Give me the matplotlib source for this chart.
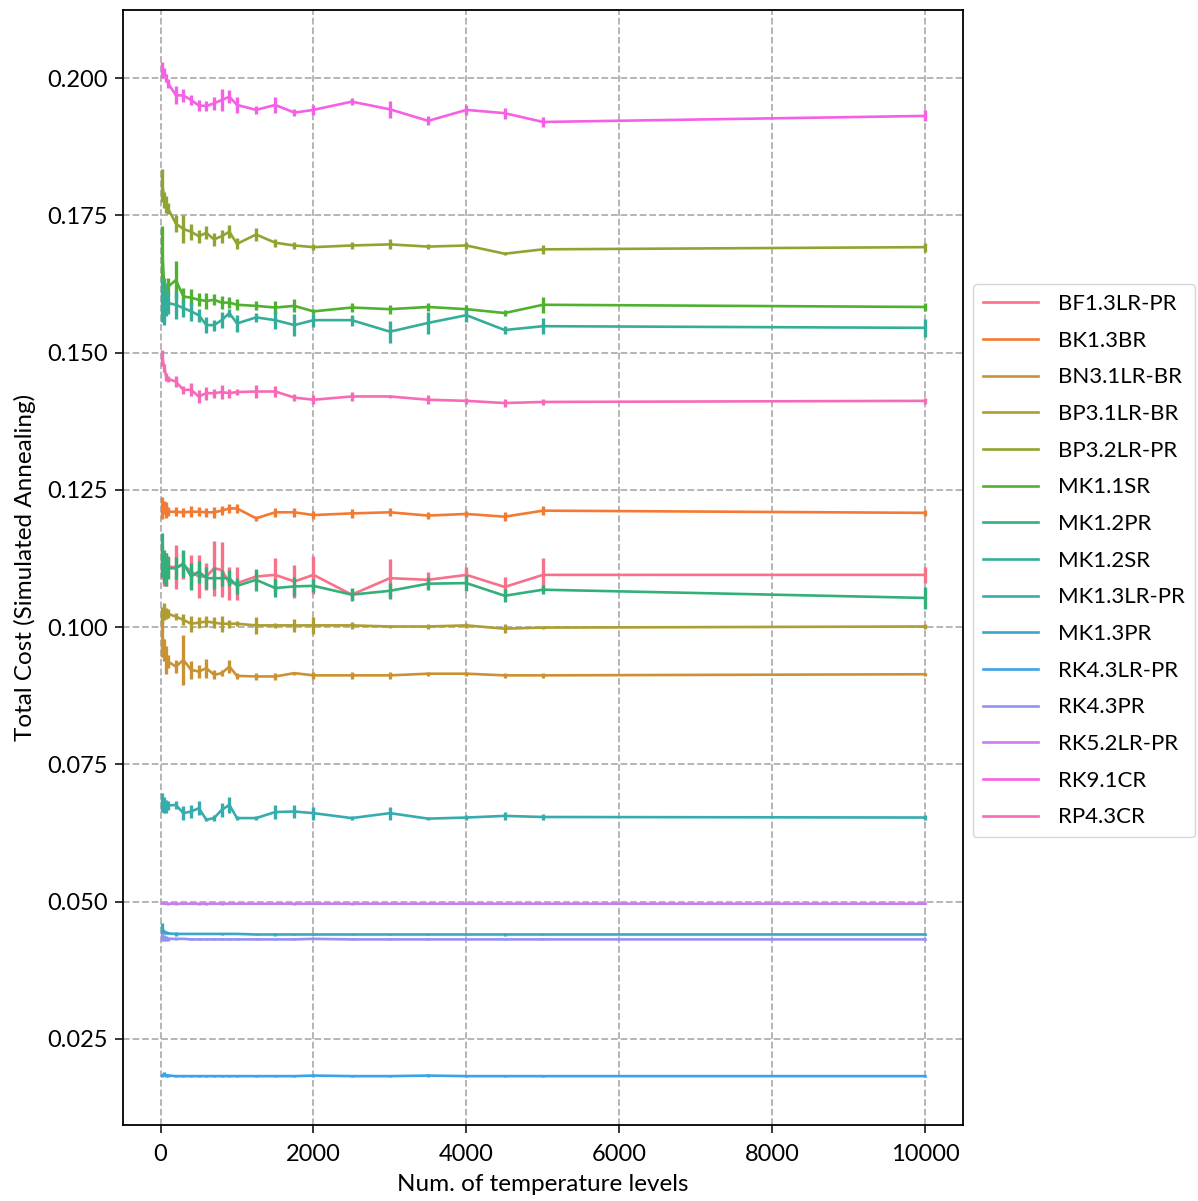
import matplotlib
matplotlib.use("Agg")
import matplotlib.pyplot as plt
import seaborn as sns

plt.rcParams['font.family'] = ['Lato', 'DejaVu Sans']

levels = [25, 50, 75, 100, 200, 300, 400, 500, 600, 700, 800, 900, 1000,
          1250, 1500, 1750, 2000, 2500, 3000, 3500, 4000, 4500, 5000, 10000]

names = ["BF1.3LR-PR", "BK1.3BR", "BN3.1LR-BR", "BP3.1LR-BR", "BP3.2LR-PR",
         "MK1.1SR", "MK1.2PR", "MK1.2SR", "MK1.3LR-PR", "MK1.3PR",
         "RK4.3LR-PR", "RK4.3PR", "RK5.2LR-PR", "RK9.1CR", "RP4.3CR"]

bf13lr_pr = [0.1117, 0.1104, 0.1104, 0.1110, 0.1109, 0.1113, 0.1101, 0.1092, 0.1092, 0.1107, 0.1104, 0.1080,
             0.1080, 0.1092, 0.1095, 0.1083, 0.1095, 0.1059, 0.1089, 0.1086, 0.1095, 0.1073, 0.1095, 0.1095]
bf13lr_pr_err = [0.0030, 0.0030, 0.0030, 0.0020, 0.0040, 0.0025, 0.0030, 0.0040, 0.0025, 0.0050, 0.0050, 0.0030,
                 0.0030, 0.0010, 0.0030, 0.0030, 0.0035, 0.0010, 0.0035, 0.0015, 0.0015, 0.0018, 0.0030, 0.0015]

bk13br = [0.1217, 0.1217, 0.1213, 0.1210, 0.1210, 0.1209, 0.1210, 0.1210, 0.1209, 0.1209, 0.1212, 0.1216,
          0.1216, 0.1198, 0.1209, 0.1209, 0.1204, 0.1207, 0.1209, 0.1203, 0.1206, 0.1201, 0.1212, 0.1208]
bk13br_err = [0.0020, 0.0012, 0.0015, 0.0008, 0.0008, 0.0008, 0.0010, 0.0008, 0.0008, 0.0010, 0.0008, 0.0008,
              0.0008, 0.0005, 0.0008, 0.0008, 0.0008, 0.0008, 0.0007, 0.0007, 0.0005, 0.0008, 0.0008, 0.0006]

bn31lr_br = [0.0985, 0.0959, 0.0940, 0.0937, 0.0928, 0.0940, 0.0922, 0.0919, 0.0925, 0.0913, 0.0916, 0.0928,
             0.0911, 0.0910, 0.0910, 0.0916, 0.0912, 0.0912, 0.0912, 0.0915, 0.0915, 0.0912, 0.0912, 0.0914]
bn31lr_br_err = [0.0040, 0.0020, 0.0025, 0.0012, 0.0012, 0.0045, 0.0017, 0.0012, 0.0017, 0.0008, 0.0005, 0.0012,
                 0.0005, 0.0007, 0.0007, 0.0003, 0.0007, 0.0007, 0.0007, 0.0004, 0.0004, 0.0004, 0.0004, 0.0003]

bp31lr_br = [0.1022, 0.1028, 0.1025, 0.1024, 0.1019, 0.1013, 0.1006, 0.1008, 0.1010, 0.1008, 0.1006, 0.1006,
             0.1006, 0.1003, 0.1003, 0.1003, 0.1003, 0.1003, 0.1001, 0.1001, 0.1003, 0.0997, 0.0999, 0.1001]
bp31lr_br_err = [0.0015, 0.0015, 0.0010, 0.0008, 0.0007, 0.0010, 0.0015, 0.0010, 0.0010, 0.0010, 0.0015, 0.0007,
                 0.0005, 0.0015, 0.0005, 0.0012, 0.0015, 0.0007, 0.0003, 0.0004, 0.0004, 0.0008, 0.0003, 0.0004]

bp32lr_pr = [0.1805, 0.1778, 0.1770, 0.1762, 0.1735, 0.1725, 0.1720, 0.1712, 0.1718, 0.1706, 0.1712, 0.1720,
             0.1698, 0.1715, 0.1700, 0.1695, 0.1692, 0.1695, 0.1697, 0.1693, 0.1695, 0.1680, 0.1688, 0.1692]
bp32lr_pr_err = [0.0030, 0.0015, 0.0015, 0.0010, 0.0015, 0.0025, 0.0015, 0.0012, 0.0012, 0.0012, 0.0012, 0.0012,
                 0.0010, 0.0012, 0.0007, 0.0007, 0.0006, 0.0007, 0.0009, 0.0005, 0.0006, 0.0003, 0.0008, 0.0008]

mk11sr = [0.1680, 0.1615, 0.1605, 0.1620, 0.1632, 0.1602, 0.1600, 0.1596, 0.1594, 0.1596, 0.1591, 0.1591,
          0.1587, 0.1585, 0.1582, 0.1585, 0.1575, 0.1582, 0.1579, 0.1583, 0.1579, 0.1572, 0.1587, 0.1583]
mk11sr_err = [0.0050, 0.0020, 0.0015, 0.0015, 0.0035, 0.0015, 0.0015, 0.0012, 0.0015, 0.0010, 0.0012, 0.0010,
              0.0010, 0.0008, 0.0012, 0.0012, 0.0005, 0.0009, 0.0008, 0.0008, 0.0008, 0.0005, 0.0015, 0.0008]

mk12pr = [0.1131, 0.1110, 0.1104, 0.1107, 0.1107, 0.1116, 0.1092, 0.1101, 0.1089, 0.1089, 0.1089, 0.1089,
          0.1075, 0.1086, 0.1071, 0.1074, 0.1075, 0.1059, 0.1066, 0.1079, 0.1080, 0.1057, 0.1068, 0.1053]
mk12pr_err = [0.0040, 0.0030, 0.0030, 0.0020, 0.0020, 0.0025, 0.0025, 0.0020, 0.0020, 0.0020, 0.0015, 0.0015,
              0.0015, 0.0020, 0.0017, 0.0017, 0.0012, 0.0012, 0.0015, 0.0012, 0.0015, 0.0012, 0.0008, 0.0020]

mk12sr = [0.1596, 0.1580, 0.1596, 0.1590, 0.1587, 0.1581, 0.1575, 0.1568, 0.1550, 0.1550, 0.1559, 0.1572,
          0.1553, 0.1564, 0.1559, 0.1550, 0.1559, 0.1559, 0.1538, 0.1554, 0.1568, 0.1541, 0.1548, 0.1545]
mk12sr_err = [0.0040, 0.0030, 0.0030, 0.0020, 0.0025, 0.0017, 0.0017, 0.0012, 0.0015, 0.0010, 0.0015, 0.0008,
              0.0015, 0.0008, 0.0017, 0.0020, 0.0012, 0.0010, 0.0020, 0.0020, 0.0012, 0.0008, 0.0015, 0.0017]

mk13lr_pr = [0.0680, 0.0676, 0.0673, 0.0675, 0.0676, 0.0661, 0.0664, 0.0670, 0.0649, 0.0652, 0.0667, 0.0676,
             0.0652, 0.0652, 0.0663, 0.0664, 0.0661, 0.0652, 0.0661, 0.0651, 0.0653, 0.0656, 0.0654, 0.0653]
mk13lr_pr_err = [0.0017, 0.0015, 0.0012, 0.0008, 0.0008, 0.0013, 0.0012, 0.0013, 0.0003, 0.0005, 0.0013, 0.0015,
                 0.0003, 0.0003, 0.0012, 0.0012, 0.0012, 0.0003, 0.0012, 0.0003, 0.0004, 0.0008, 0.0005, 0.0004]

mk13pr = [0.0451, 0.0444, 0.0443, 0.0442, 0.0441, 0.0441, 0.0441, 0.0441, 0.0441, 0.0441, 0.0441, 0.0441,
          0.0441, 0.0440, 0.0440, 0.0440, 0.0440, 0.0440, 0.0440, 0.0440, 0.0440, 0.0440, 0.0440, 0.0440]
mk13pr_err = [0.0010, 0.0004, 0.0003, 0.0002, 0.0003, 0.0001, 0.0001, 0.0001, 0.0001, 0.0001, 0.0002, 0.0001,
              0.0001, 0.0001, 0.0002, 0.0001, 0.0001, 0.0001, 0.0001, 0.0001, 0.0001, 0.0002, 0.0001, 0.0001]

rk43lr_pr = [0.0183, 0.0186, 0.0183, 0.0183, 0.0182, 0.0182, 0.0182, 0.0182, 0.0182, 0.0182, 0.0182, 0.0182,
             0.0182, 0.0182, 0.0182, 0.0182, 0.0183, 0.0182, 0.0182, 0.0183, 0.0182, 0.0182, 0.0182, 0.0182]
rk43lr_pr_err = [0.0003, 0.0004, 0.0002, 0.0002, 0.0001, 0.0002, 0.0001, 0.0001, 0.0002, 0.0001, 0.0001, 0.0001,
                 0.0001, 0.0001, 0.0001, 0.0001, 0.0002, 0.0001, 0.0001, 0.0002, 0.0001, 0.0001, 0.0001, 0.0001]

rk43pr = [0.0436, 0.0434, 0.0433, 0.0432, 0.0432, 0.0432, 0.0431, 0.0431, 0.0431, 0.0431, 0.0431, 0.0431,
          0.0431, 0.0431, 0.0431, 0.0431, 0.0432, 0.0431, 0.0431, 0.0431, 0.0431, 0.0431, 0.0431, 0.0431]
rk43pr_err = [0.0007, 0.0005, 0.0004, 0.0003, 0.0002, 0.0001, 0.0001, 0.0001, 0.0001, 0.0001, 0.0001, 0.0001,
              0.0001, 0.0001, 0.0001, 0.0001, 0.0001, 0.0001, 0.0001, 0.0001, 0.0001, 0.0001, 0.0001, 0.0001]

rk52lr_pr = [0.0497, 0.0496, 0.0496, 0.0496, 0.0496, 0.0496, 0.0496, 0.0496, 0.0496, 0.0496, 0.0496, 0.0496,
             0.0496, 0.0496, 0.0496, 0.0496, 0.0496, 0.0496, 0.0496, 0.0496, 0.0496, 0.0496, 0.0496, 0.0496]
rk52lr_pr_err = [0.0002, 0.0001, 0.0001, 0.0002, 0.0002, 0.0001, 0.0001, 0.0002, 0.0002, 0.0001, 0.0002, 0.0001,
                 0.0001, 0.0001, 0.0001, 0.0002, 0.0001, 0.0002, 0.0001, 0.0001, 0.0001, 0.0001, 0.0001, 0.0001]

rk91cr = [0.2015, 0.2011, 0.2000, 0.1990, 0.1969, 0.1968, 0.1960, 0.1950, 0.1949, 0.1954, 0.1960, 0.1966,
          0.1951, 0.1942, 0.1951, 0.1937, 0.1942, 0.1957, 0.1943, 0.1922, 0.1942, 0.1936, 0.1920, 0.1931]
rk91cr_err = [0.0015, 0.0007, 0.0008, 0.0008, 0.0017, 0.0012, 0.0010, 0.0010, 0.0009, 0.0012, 0.0020, 0.0012,
              0.0015, 0.0007, 0.0015, 0.0006, 0.0009, 0.0006, 0.0015, 0.0008, 0.0009, 0.0010, 0.0009, 0.0010]

rp43cr = [0.1490, 0.1472, 0.1456, 0.1452, 0.1447, 0.1432, 0.1432, 0.1420, 0.1426, 0.1426, 0.1428, 0.1426,
          0.1428, 0.1429, 0.1429, 0.1418, 0.1414, 0.1420, 0.1420, 0.1414, 0.1412, 0.1408, 0.1410, 0.1412]
rp43cr_err = [0.0015, 0.0008, 0.0007, 0.0006, 0.0010, 0.0007, 0.0012, 0.0012, 0.0012, 0.0008, 0.0012, 0.0008,
              0.0005, 0.0012, 0.0010, 0.0007, 0.0008, 0.0008, 0.0003, 0.0008, 0.0005, 0.0008, 0.0005, 0.0005]

series = [bf13lr_pr, bk13br, bn31lr_br, bp31lr_br, bp32lr_pr, mk11sr, mk12pr, mk12sr,
          mk13lr_pr, mk13pr, rk43lr_pr, rk43pr, rk52lr_pr, rk91cr, rp43cr]
errors = [bf13lr_pr_err, bk13br_err, bn31lr_br_err, bp31lr_br_err, bp32lr_pr_err, mk11sr_err, mk12pr_err,
          mk12sr_err, mk13lr_pr_err, mk13pr_err, rk43lr_pr_err, rk43pr_err, rk52lr_pr_err, rk91cr_err, rp43cr_err]

colors = sns.color_palette("husl", len(names))

fig = plt.figure(figsize=(11.98, 12.01), dpi=100)
ax = fig.add_axes([0.1027, 0.0633, 0.701, 0.9284])

for name, vals, errs, c in zip(names, series, errors, colors):
    ax.plot(levels, vals, color=c, lw=1.9, label=name)
    ax.errorbar(levels, vals, yerr=errs, fmt='none', ecolor=c, elinewidth=2.4, capsize=0)

ax.set_xlim(-490, 10490)
ax.set_ylim(0.0093, 0.2124)
ax.set_yticks([0.025, 0.050, 0.075, 0.100, 0.125, 0.150, 0.175, 0.200])
ax.grid(True, linestyle='--', color='#b0b0b0', lw=1.3)
ax.set_axisbelow(True)
for s in ax.spines.values():
    s.set_linewidth(1.3)
ax.tick_params(labelsize=17, length=6, width=1.1)
ax.tick_params(axis='x', pad=8)
ax.tick_params(axis='y', pad=5)

ax.set_xlabel("Num. of temperature levels", fontsize=17.5, labelpad=6)
ax.set_ylabel("Total Cost (Simulated Annealing)", fontsize=17.5, labelpad=8)

ax.legend(loc='center left', bbox_to_anchor=(1.012, 0.506), borderaxespad=0, fontsize=16,
          handlelength=2.5, handletextpad=0.9, labelspacing=0.75, borderpad=0.45)

fig.savefig("out.png", dpi=100)
